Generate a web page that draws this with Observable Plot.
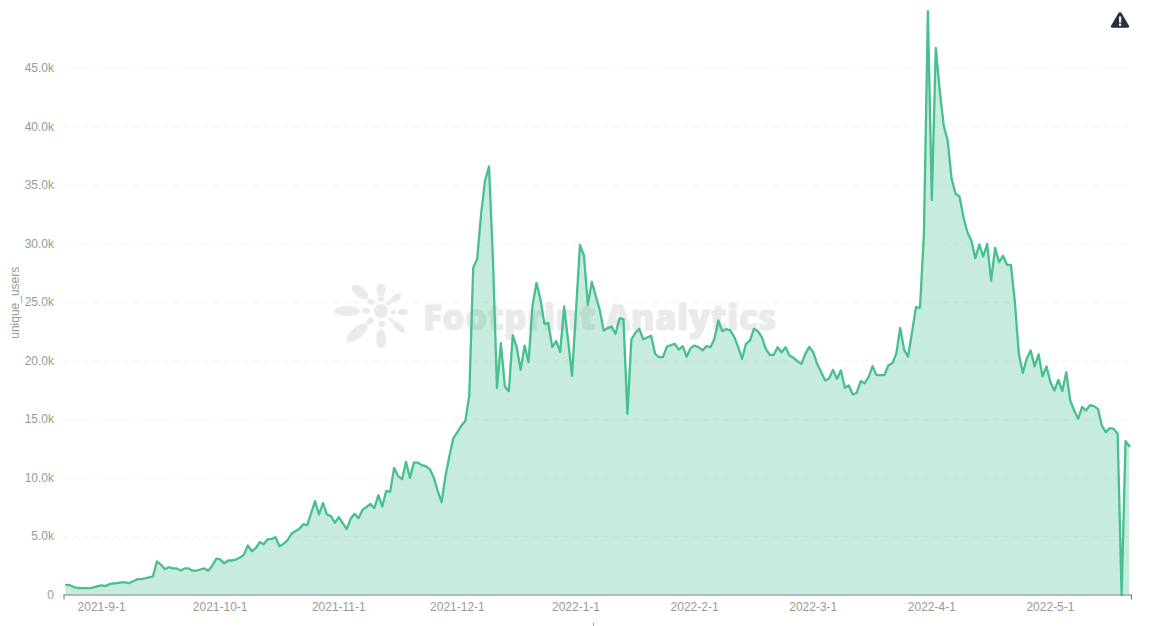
<!DOCTYPE html>
<html>
<head>
<meta charset="utf-8">
<script src="https://cdn.jsdelivr.net/npm/d3@7"></script>
<script src="https://cdn.jsdelivr.net/npm/@observablehq/plot@0.6"></script>
<style>
html,body{margin:0;padding:0;background:#fff;overflow:hidden}
#wrap{position:relative;width:1162px;height:626px}
#mark{position:absolute;left:0;top:0}
#chart{position:absolute;left:0;top:0}
#chart svg{background:transparent;display:block}
#alert{position:absolute;left:1110px;top:11px}
#crumb{position:absolute;left:593px;top:623px;width:1px;height:3px;background:#9a9a94}
</style>
</head>
<body>
<div id="wrap">
<svg id="mark" width="1162" height="626" aria-hidden="true">
  <g fill="#e9eaec">
    <circle cx="381" cy="311" r="7"/>
    <ellipse cx="347" cy="311" rx="13" ry="5"/>
    <ellipse cx="360" cy="292" rx="10" ry="5" transform="rotate(40 360 292)"/>
    <ellipse cx="381" cy="290" rx="4.5" ry="6.5"/>
    <ellipse cx="396" cy="298" rx="6" ry="3.5" transform="rotate(-40 396 298)"/>
    <ellipse cx="403" cy="312" rx="5.5" ry="3"/>
    <ellipse cx="399" cy="327" rx="7.5" ry="3.5" transform="rotate(45 399 327)"/>
    <ellipse cx="381" cy="339" rx="5" ry="9.5"/>
    <ellipse cx="357" cy="333" rx="13" ry="5.5" transform="rotate(-40 357 333)"/>
    <ellipse cx="371" cy="302" rx="4" ry="2.5" transform="rotate(30 371 302)"/>
    <ellipse cx="381" cy="299" rx="3.5" ry="2.5"/>
    <ellipse cx="389" cy="303" rx="3" ry="2" transform="rotate(-45 389 303)"/>
    <circle cx="393" cy="312" r="2.5"/>
    <ellipse cx="391" cy="320" rx="3" ry="2" transform="rotate(40 391 320)"/>
    <ellipse cx="382" cy="324" rx="3.5" ry="3"/>
    <ellipse cx="370" cy="321" rx="4" ry="3" transform="rotate(-40 370 321)"/>
    <ellipse cx="366" cy="311" rx="4" ry="3"/>
    <text x="423" y="330" font-family="Open Sans" font-weight="800" font-size="35" textLength="353" stroke="#e9eaec" stroke-width="1">Footprint Analytics</text>
  </g>
</svg>
<div id="chart"></div>
<svg id="alert" width="20" height="18" viewBox="0 0 20 18" aria-hidden="true">
  <path d="M10 1.2 C10.8 1.2 11.3 1.6 11.7 2.3 L18.8 14.4 C19.6 15.8 18.9 16.8 17.4 16.8 L2.6 16.8 C1.1 16.8 .4 15.8 1.2 14.4 L8.3 2.3 C8.7 1.6 9.2 1.2 10 1.2 Z" fill="#2b2f42"/>
  <rect x="9" y="5.5" width="2.2" height="6" fill="#fff"/>
  <rect x="9" y="12.6" width="2.2" height="2.2" fill="#fff"/>
</svg>
<div id="crumb"></div>
</div>
<script>
const uniqueUsers = [
  870,840,680,600,580,590,590,650,750,830,
  760,930,1000,1020,1080,1080,1020,1180,1350,1350,
  1420,1500,1600,2880,2600,2200,2380,2280,2270,2100,
  2270,2270,2080,2080,2180,2270,2080,2500,3100,3050,
  2700,2950,2950,3030,3200,3450,4230,3750,4000,4520,
  4340,4770,4770,4940,4170,4370,4660,5230,5450,5650,
  6050,5970,6990,8020,6880,7850,6880,6740,6170,6650,
  6140,5630,6510,6940,6570,7280,7510,7790,7420,8530,
  7560,8900,8820,10870,10160,9900,11380,10010,11320,11320,
  11100,11010,10780,10070,8930,7930,10200,11920,13430,13920,
  14490,14860,17050,27960,28730,32580,35430,36620,28590,17700,
  21520,17820,17420,22180,21180,19240,21320,19900,24740,26680,
  25310,23180,23230,21180,21700,20780,24660,21750,18730,24310,
  29930,29020,24800,26770,25540,24370,22610,22810,22950,22320,
  23660,23570,15480,21840,22410,22750,21860,22010,22150,20610,
  20330,20330,21240,21350,21470,20980,21270,20360,21120,21320,
  21180,20900,21270,21180,21890,23460,22550,22720,22610,22090,
  21200,20180,21470,21750,22750,22550,22040,21040,20530,20530,
  21180,20750,21180,20470,20270,19980,19760,20610,21210,20750,
  19760,19050,18330,18500,19240,18470,19190,17710,17910,17140,
  17280,18280,18100,18620,19560,18790,18790,18790,19640,19810,
  20610,22830,20950,20380,22490,24600,24540,30860,49900,33770,
  46760,43120,40130,38840,35570,34290,34060,32290,31010,30300,
  28790,29960,28930,30010,26880,29670,28450,28990,28220,28220,
  25030,20610,18990,20190,20900,19530,20560,18680,19530,18190,
  17480,18390,17420,19050,16620,15770,15060,16060,15770,16230,
  16140,15910,14490,13920,14260,14200,13780,0,13150,12720
];
const tickPositions = [9,39,69,99,129,159,189,219,249];
const tickLabels = ["2021-9-1","2021-10-1","2021-11-1","2021-12-1","2022-1-1","2022-2-1","2022-3-1","2022-4-1","2022-5-1"];
const yTicks = [0,5000,10000,15000,20000,25000,30000,35000,40000,45000];

const xDomain = [-0.5, uniqueUsers.length - 0.5];
const idx = (d, i) => i;
const val = d => d;
const axisColor = "#6f7a78", textColor = "#9a9a94";

const plot = Plot.plot({
  width: 1162, height: 626,
  marginLeft: 63.5, marginRight: 31, marginTop: 10, marginBottom: 31.5,
  style: {background: "transparent", fontFamily: "'Liberation Sans', Arial, sans-serif", fontSize: "12px"},
  x: {type: "linear", domain: xDomain},
  y: {domain: [0, 49957]},
  marks: [
    Plot.ruleY(yTicks.slice(1), {stroke: "#f3f3f3", strokeDasharray: "5 5", strokeWidth: 1}),
    Plot.areaY(uniqueUsers, {x: idx, y: val, fill: "#47bf8f", fillOpacity: 0.3, curve: "linear"}),
    Plot.lineY(uniqueUsers, {x: idx, y: val, stroke: "#47bf8f", strokeWidth: 2.3, curve: "linear"}),
    Plot.ruleY([0], {stroke: axisColor, strokeWidth: 1}),
    Plot.axisX(xDomain, {tickSize: 5, stroke: axisColor, tickFormat: () => "", label: null}),
    Plot.axisX({ticks: tickPositions, tickSize: 0, tickPadding: 7, fill: textColor,
      tickFormat: d => tickLabels[tickPositions.indexOf(d)], label: null, fontSize: 12}),
    Plot.axisY({ticks: yTicks, tickSize: 0, tickPadding: 10, fill: textColor, fontSize: 12,
      tickFormat: d => d === 0 ? "0" : (d / 1000).toFixed(1) + "k", label: null}),
    Plot.text(["unique_users"], {frameAnchor: "left", dx: -48.5, rotate: -90, fill: textColor, fontSize: 12, textAnchor: "middle"})
  ]
});
document.getElementById("chart").appendChild(plot);
</script>
</body>
</html>
